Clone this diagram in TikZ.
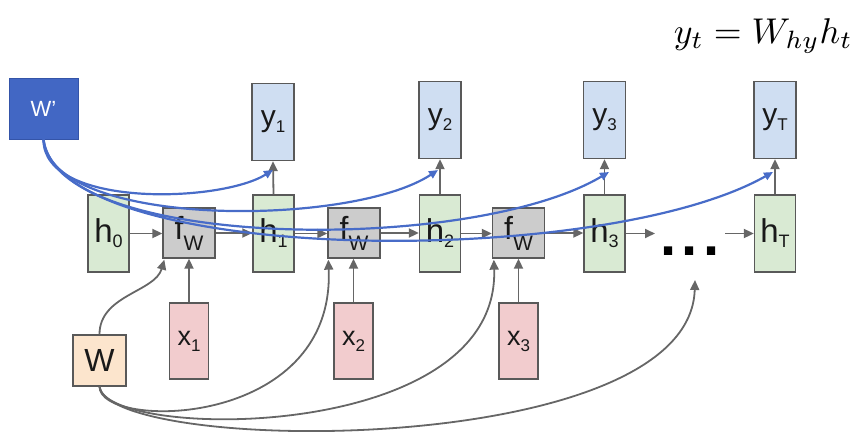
\documentclass[tikz,border=0pt]{standalone}
\usepackage{fontspec}
\setmainfont{Liberation Sans}
\usetikzlibrary{arrows.meta,calc}
\definecolor{bordc}{RGB}{89,89,89}
\definecolor{arrc}{RGB}{102,102,102}
\definecolor{bluec}{RGB}{72,108,200}
\definecolor{wpfill}{RGB}{66,103,196}
\definecolor{wpdraw}{RGB}{52,84,168}
\definecolor{yfill}{RGB}{207,222,242}
\definecolor{hfill}{RGB}{217,234,211}
\definecolor{ffill}{RGB}{204,204,204}
\definecolor{xfill}{RGB}{242,204,206}
\definecolor{wfill}{RGB}{252,229,205}
\newcommand\mylbl[5]{{\fontsize{#3}{#3}\selectfont #1}\raisebox{-#5pt}{\fontsize{#4}{#4}\selectfont #2}}
\begin{document}
\begin{tikzpicture}[x=1pt,y=-1pt,
  box/.style={draw=bordc, line width=1.3pt, inner sep=0pt, text=black!90},
  ybox/.style={box, fill=yfill, minimum width=42pt, minimum height=77pt},
  hbox/.style={box, fill=hfill, minimum width=41pt, minimum height=77pt},
  fbox/.style={box, fill=ffill, minimum width=52pt, minimum height=50pt},
  xbox/.style={box, fill=xfill, minimum width=39pt, minimum height=76pt},
  wbox/.style={box, fill=wfill, minimum width=53pt, minimum height=51pt},
  wpbox/.style={draw=wpdraw, line width=1pt, fill=wpfill, text=white, inner sep=0pt, minimum width=69pt, minimum height=61pt},
  garr/.style={draw=arrc, line width=1.8pt, -{Triangle[length=10pt,width=9pt]}},
  barr/.style={draw=bluec, line width=2.2pt, -{Triangle[length=9pt,width=8pt]}}]
\useasboundingbox (0,0) rectangle (855,437);
% equation
\node[anchor=base east, inner sep=0pt] (eq) at (853,43) {\resizebox{179pt}{!}{$y_t = W_{hy} h_t$}};
% top outputs
\node[ybox] (y1) at (273,122) {\mylbl{y}{1}{30}{17}{6}};
\node[ybox] (y2) at (440,120) {\mylbl{y}{2}{30}{17}{6}};
\node[ybox] (y3) at (604.5,120) {\mylbl{y}{3}{30}{17}{6}};
\node[ybox] (yT) at (775,120) {\mylbl{y}{T}{30}{17}{6}};
% hidden states
\node[hbox] (h0) at (108.5,233.5) {\mylbl{h}{0}{33}{18}{5}};
\node[hbox] (h1) at (273.5,233.5) {\mylbl{h}{1}{33}{18}{5}};
\node[hbox] (h2) at (440,233.5) {\mylbl{h}{2}{33}{18}{5}};
\node[hbox] (h3) at (604.5,233.5) {\mylbl{h}{3}{33}{18}{5}};
\node[hbox] (hT) at (775,233.5) {\mylbl{h}{T}{33}{18}{5}};
% functions
\node[fbox] (f1) at (189,233) {\mylbl{f}{W}{32}{21}{11}};
\node[fbox] (f2) at (354,233) {\mylbl{f}{W}{32}{21}{11}};
\node[fbox] (f3) at (518.5,233) {\mylbl{f}{W}{32}{21}{11}};
% inputs
\node[xbox] (x1) at (189,341) {\mylbl{x}{1}{27}{17}{6}};
\node[xbox] (x2) at (353.5,341) {\mylbl{x}{2}{27}{17}{6}};
\node[xbox] (x3) at (518.5,341) {\mylbl{x}{3}{27}{17}{6}};
% weights
\node[wbox] (W) at (99.5,360.5) {\fontsize{32}{32}\selectfont W};
\node[wpbox] (Wp) at (43.5,108.5) {\fontsize{22}{22}\selectfont W’};
% dots
\node[inner sep=0pt] (dots) at (690,251) {\fontsize{58}{58}\selectfont\bfseries .\hspace{5pt}.\hspace{5pt}.};
% free coordinates
\coordinate (d1) at (655,233.5);
\coordinate (d2) at (725,233.5);
\coordinate (g1) at ($(f1.south west)+(2,1)$);
\coordinate (g2) at ($(f2.south west)+(1,1)$);
\coordinate (g3) at ($(f3.south west)+(2,1)$);
\coordinate (g4) at (695,280);
\coordinate (b1) at (273,170);
\coordinate (b2) at (438,170);
\coordinate (b3) at (609,172);
\coordinate (bT) at (773,172);
% horizontal chain
\draw[garr] (h0.east) -- (h0.east -| f1.west);
\draw[garr] (f1.east) -- (f1.east -| h1.west);
\draw[garr] (h1.east) -- (h1.east -| f2.west);
\draw[garr] (f2.east) -- (f2.east -| h2.west);
\draw[garr] (h2.east) -- (h2.east -| f3.west);
\draw[garr] (f3.east) -- (f3.east -| h3.west);
\draw[garr] (h3.east) -- (d1);
\draw[garr] (d2) -- (hT.west);
% vertical
\draw[garr] (h1.north) -- (y1.south);
\draw[garr] (h2.north) -- (y2.south);
\draw[garr] (h3.north) -- (y3.south);
\draw[garr] (hT.north) -- (yT.south);
\draw[garr] (x1.north) -- (f1.south);
\draw[garr] (x2.north) -- (x2.north |- f2.south);
\draw[garr] (x3.north) -- (f3.south);
% W curves
\draw[garr] (W.north) .. controls (99.5,295) and (155,292) .. (g1);
\draw[garr] (W.south) .. controls (99.5,430) and (335,430) .. (g2);
\draw[garr] (W.south) .. controls (105,440) and (500,445) .. (g3);
\draw[garr] (W.south) .. controls (110,455) and (690,460) .. (g4);
% W' curves
\draw[barr] (Wp.south) .. controls (43,208) and (220,203) .. (b1);
\draw[barr] (Wp.south) .. controls (50,228) and (350,228) .. (b2);
\draw[barr] (Wp.south) .. controls (55,250) and (470,255) .. (b3);
\draw[barr] (Wp.south) .. controls (60,265) and (600,270) .. (bT);
\end{tikzpicture}
\end{document}
